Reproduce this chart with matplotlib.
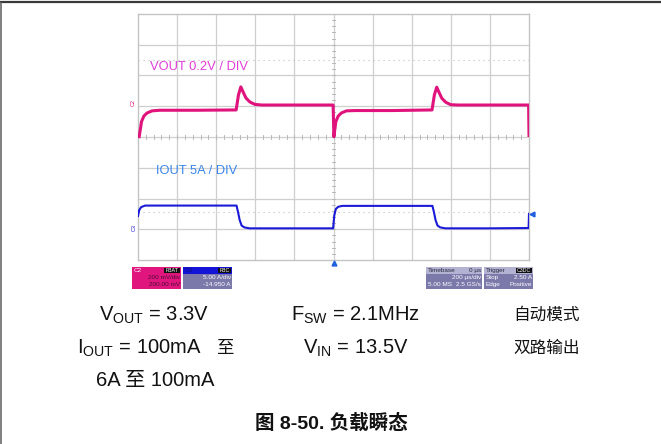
import numpy as np
import matplotlib
matplotlib.use("Agg")
import matplotlib.pyplot as plt
from matplotlib.patches import Rectangle

W, H = 661, 444
FONTS = ['Liberation Sans', 'Noto Sans CJK SC', 'DejaVu Sans']

# Scope traces, read in divisions (x: 0..10, y: 0..8 from bottom)
vout_t = [0.03, 0.09, 0.15, 0.23, 0.36, 0.56, 1.5, 2.51, 2.57, 2.63, 2.69, 2.76, 2.86, 2.99, 3.17, 4.0, 4.99,
          5.01, 5.06, 5.12, 5.20, 5.33, 5.55, 6.5, 7.52, 7.58, 7.64, 7.70, 7.77, 7.87, 8.00, 8.18, 9.0, 9.99, 10.0]
vout_v = [4.01, 4.50, 4.68, 4.78, 4.85, 4.87, 4.87, 4.88, 5.37, 5.63, 5.46, 5.27, 5.14, 5.06, 5.04, 5.04, 5.04,
          4.01, 4.50, 4.68, 4.78, 4.85, 4.86, 4.86, 4.88, 5.37, 5.62, 5.45, 5.26, 5.13, 5.05, 5.04, 5.04, 5.04, 4.05]

iout_t = [0.0, 0.03, 0.08, 0.18, 1.5, 2.52, 2.56, 2.60, 2.65, 2.72, 2.85, 4.0, 4.99,
          5.02, 5.06, 5.12, 5.22, 6.5, 7.53, 7.57, 7.61, 7.66, 7.73, 7.86, 9.0, 9.99, 10.0]
iout_v = [1.43, 1.62, 1.72, 1.77, 1.77, 1.77, 1.55, 1.30, 1.12, 1.06, 1.03, 1.03, 1.03,
          1.45, 1.66, 1.73, 1.76, 1.76, 1.76, 1.55, 1.30, 1.12, 1.06, 1.03, 1.03, 1.04, 1.50]

vout_cond = "V$_{\\mathregular{OUT}}$ = 3.3V"
iout_cond = "I$_{\\mathregular{OUT}}$ = 100mA"
step_cond = "6A 至 100mA"
cond_mid = ["F$_{\\mathregular{SW}}$ = 2.1MHz", "V$_{\\mathregular{IN}}$ = 13.5V"]
cond_right = ["自动模式", "双路输出"]
caption = "图 8-50. 负载瞬态"

plt.rcParams['font.family'] = FONTS
plt.rcParams['mathtext.fontset'] = 'custom'
plt.rcParams['mathtext.rm'] = 'Liberation Sans'

fig = plt.figure(figsize=(W / 100, H / 100), dpi=100)


def fx(x):
    return x / W


def fy(y):
    return 1 - y / H


def box(x0, y0, x1, y1, color):
    fig.patches.append(Rectangle((fx(x0), fy(y1)), fx(x1 - x0), (y1 - y0) / H,
                                 transform=fig.transFigure, facecolor=color, edgecolor='none'))


def label(x, y, s, **kw):
    fig.text(fx(x), fy(y), s, **kw)


# page frame
fig.add_artist(plt.Line2D([0, 1], [fy(2.5), fy(2.5)], color='#3a3a3a', lw=1.6, transform=fig.transFigure))
fig.add_artist(plt.Line2D([fx(1), fx(1)], [0, fy(3)], color='#6a6a6a', lw=1.2, transform=fig.transFigure))

# scope screen
ax = fig.add_axes([fx(138), fy(260), fx(529 - 138), (260 - 14) / H])
ax.set_xlim(0, 10)
ax.set_ylim(0, 8)
ax.set_xticks([])
ax.set_yticks([])
for s in ax.spines.values():
    s.set_color('#c4c4c4')
    s.set_linewidth(1.0)
for i in range(1, 10):
    ax.axvline(i, color='#cfcfcf', lw=0.9, zorder=1)
for j in range(1, 8):
    ax.axhline(j, color='#cfcfcf', lw=0.9, zorder=1)
# minor ticks on centre lines
for k in np.arange(0.2, 10, 0.2):
    ax.plot([k, k], [3.93, 4.07], color='#b8b8b8', lw=0.7, zorder=1)
for k in np.arange(0.2, 8, 0.2):
    ax.plot([4.96, 5.04], [k, k], color='#b8b8b8', lw=0.7, zorder=1)
# cursor levels
ax.axhline(6.5, color='#bdbdbd', lw=0.8, ls=(0, (1, 3.5)), zorder=1)
ax.axhline(1.57, color='#bdbdbd', lw=0.8, ls=(0, (1, 3.5)), zorder=1)

ax.plot(vout_t, vout_v, color='#e0127c', lw=2.2, zorder=3, solid_joinstyle='round')
ax.plot(iout_t, iout_v, color='#1a1ad8', lw=1.5, zorder=3, solid_joinstyle='round')

ax.text(0.31, 6.28, "VOUT 0.2V / DIV", color='#e33bd9', fontsize=9.3, va='center', ha='left')
ax.text(0.46, 2.89, "IOUT 5A / DIV", color='#3a86ec', fontsize=9.3, va='center', ha='left')

# channel markers and trigger arrows
label(133, 103, "C2", color='#e0127c', fontsize=4, rotation=90, ha='center', va='center')
label(134, 227, "C3", color='#1a1ad8', fontsize=4, rotation=90, ha='center', va='center')
ax.plot([5.0], [-0.1], marker='^', color='#2060e0', ms=3.5, clip_on=False, zorder=4)
ax.plot([10.08], [1.48], marker='<', color='#2060e0', ms=3.5, clip_on=False, zorder=4)

# status panels
small = dict(fontsize=4.6, va='center')
box(132, 267, 181, 289, '#e0167e')
label(134, 270.5, "C2", color='white', ha='left', **small)
box(164, 268, 180, 273, '#111111')
label(172, 270.5, "FBAT", color='white', ha='center', fontsize=3.8, va='center')
label(180, 277.5, "200 mV/div", color='#4a0b35', ha='right', **small)
label(180, 284, "200.00 mV", color='#4a0b35', ha='right', **small)

box(183, 267, 232, 289, '#7b78aa')
box(183, 267, 232, 274, '#1414d6')
label(185, 270.5, "C3", color='#101080', ha='left', **small)
box(218, 268, 231, 273, '#111111')
label(224.5, 270.5, "FBC", color='white', ha='center', fontsize=3.8, va='center')
label(231, 277.5, "5.00 A/div", color='white', ha='right', **small)
label(231, 284, "-14.950 A", color='white', ha='right', **small)

box(426, 267, 482, 289, '#7b78aa')
box(426, 267, 482, 274, '#b4b2d2')
label(428, 270.5, "Timebase", color='#2a2a40', ha='left', **small)
label(481, 270.5, "0 µs", color='#2a2a40', ha='right', **small)
label(481, 277.5, "200 µs/div", color='white', ha='right', **small)
label(428, 284, "5.00 MS", color='white', ha='left', **small)
label(481, 284, "2.5 GS/s", color='white', ha='right', **small)

box(484, 267, 533, 289, '#7b78aa')
box(484, 267, 533, 274, '#b4b2d2')
label(486, 270.5, "Trigger", color='#2a2a40', ha='left', **small)
box(516, 268, 532, 273, '#111111')
label(524, 270.5, "C3DC", color='white', ha='center', fontsize=3.8, va='center')
label(486, 277.5, "Stop", color='white', ha='left', **small)
label(532, 277.5, "2.50 A", color='white', ha='right', **small)
label(486, 284, "Edge", color='white', ha='left', **small)
label(532, 284, "Positive", color='white', ha='right', **small)

# test conditions
cond = dict(fontsize=14.5, color='#111111', va='center')
label(154, 315, vout_cond, ha='center', **cond)
label(77, 348, iout_cond, ha='left', **cond)
label(233, 348, "至", ha='right', fontsize=12.5, color='#111111', va='center')
label(155, 380, step_cond, ha='center', **cond)
for s, (x, y) in zip(cond_mid, [(356, 315), (356, 348)]):
    label(x, y, s, ha='center', **cond)
for s, (x, y) in zip(cond_right, [(547, 315), (547, 348)]):
    label(x, y, s, ha='center', fontsize=12, color='#111111', va='center')

label(331, 423, caption, fontsize=14, fontweight='bold', color='#111111', ha='center', va='center')

fig.savefig("out.png", dpi=100)
